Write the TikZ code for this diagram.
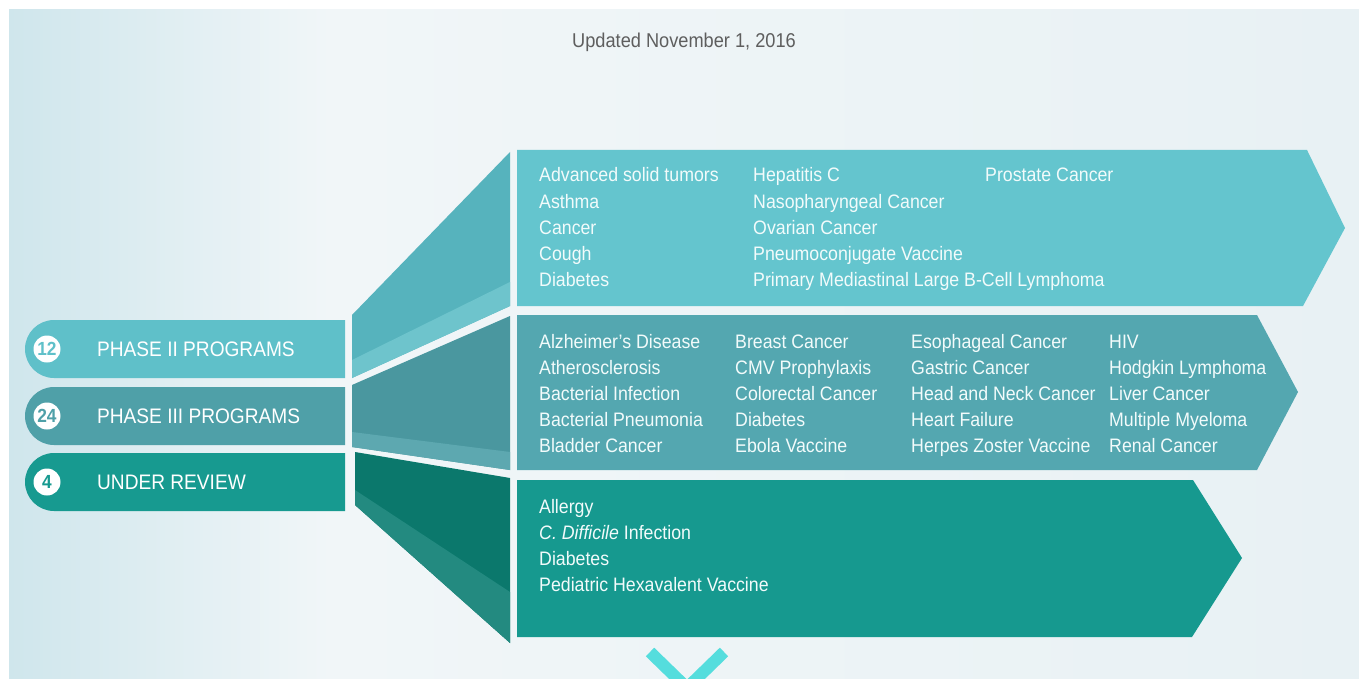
\documentclass[tikz,border=0pt]{standalone}
\usepackage{fontspec}
\newfontfamily\cond[FakeStretch=0.91]{Liberation Sans}
\definecolor{bgL}{HTML}{CFE6EC}
\definecolor{bgM}{HTML}{F1F6F8}
\definecolor{bgR}{HTML}{E8F1F4}
\definecolor{banA}{HTML}{64C5CE}
\definecolor{banB}{HTML}{54A7B0}
\definecolor{banC}{HTML}{16998F}
\definecolor{conA}{HTML}{56B3BD}
\definecolor{conB}{HTML}{4A979F}
\definecolor{conC}{HTML}{0B786C}
\definecolor{bandA}{HTML}{6EC4CC}
\definecolor{bandB}{HTML}{5DA8B0}
\definecolor{bandC}{HTML}{238A80}
\definecolor{pillA}{HTML}{5FC0C9}
\definecolor{pillB}{HTML}{4FA0A8}
\definecolor{pillC}{HTML}{179A90}
\definecolor{txt}{HTML}{F2FBFB}
\definecolor{upd}{HTML}{5E5E5E}
\definecolor{chev}{HTML}{55DDDD}
\begin{document}
\begin{tikzpicture}[x=1pt,y=-1pt,
  item/.style={anchor=base west, inner sep=0pt, text=txt, font=\cond\fontsize{19.5}{26}\selectfont},
  pilltext/.style={anchor=base west, inner sep=0pt, text=white, font=\cond\fontsize{21}{24}\selectfont},
  numcirc/.style={circle, fill=white, inner sep=0pt, minimum size=27pt, font=\cond\bfseries\fontsize{19}{19}\selectfont}]
\useasboundingbox (0,0) rectangle (1359,679);
\clip (0,0) rectangle (1359,679);
\fill[white] (0,0) rectangle (1359,679);
\shade[left color=bgL, right color=bgM] (9,10) rectangle (330,679);
\shade[left color=bgM, middle color=bgM!60!white, right color=bgR] (330,10) rectangle (1359,679);

% title
\node[anchor=base west, inner sep=0pt, text=upd, font=\cond\fontsize{20}{24}\selectfont] (upd) at (572,48) {Updated November 1, 2016};

% banners
\fill[banA] (517,150) -- (1307,150) -- (1345,228) -- (1303,306) -- (517,306) -- cycle;
\fill[banB] (517,315) -- (1257,315) -- (1298,392) -- (1257,470) -- (517,470) -- cycle;
\fill[banC] (517,480) -- (1193,480) -- (1242,558) -- (1192,637) -- (517,637) -- cycle;

% connectors
\fill[conA] (352,315) -- (510,152) -- (510,306) -- (352,378) -- cycle;
\fill[bandA] (352,360) -- (510,282) -- (510,306) -- (352,378) -- cycle;
\fill[conB] (352,385) -- (510,316) -- (510,470) -- (352,447) -- cycle;
\fill[bandB] (352,432) -- (510,452) -- (510,470) -- (352,447) -- cycle;
\fill[conC] (355,452) -- (510,478) -- (510,643) -- (355,505) -- cycle;
\fill[bandC] (355,490) -- (510,592) -- (510,643) -- (355,505) -- cycle;

% pills
\fill[pillA] (345,320) -- (54,320) arc[start angle=-90, end angle=-270, radius=29] -- (345,378) -- cycle;
\fill[pillB] (345,387) -- (54,387) arc[start angle=-90, end angle=-270, radius=29] -- (345,445) -- cycle;
\fill[pillC] (345,453) -- (54,453) arc[start angle=-90, end angle=-270, radius=29] -- (345,511) -- cycle;

\node[numcirc, text=pillA] (n1) at (47,349) {12};
\node[numcirc, text=pillB] (n2) at (47,416) {24};
\node[numcirc, text=pillC] (n3) at (47,482) {4};
\node[pilltext] (p1) at (97,356.5) {PHASE II PROGRAMS};
\node[pilltext] (p2) at (97,423.5) {PHASE III PROGRAMS};
\node[pilltext] (p3) at (97,489.5) {UNDER REVIEW};

% top banner texts
\foreach \t [count=\i from 0] in {Advanced solid tumors, Asthma, Cancer, Cough, Diabetes}
  \node[item] (ta\i) at (539,{182+26*\i}) {\t};
\foreach \t [count=\i from 0] in {Hepatitis C, Nasopharyngeal Cancer, Ovarian Cancer, Pneumoconjugate Vaccine, Primary Mediastinal Large B-Cell Lymphoma}
  \node[item] (tb\i) at (753,{182+26*\i}) {\t};
\node[item] (tc0) at (985,182) {Prostate Cancer};

% middle banner texts
\foreach \t [count=\i from 0] in {Alzheimer’s Disease, Atherosclerosis, Bacterial Infection, Bacterial Pneumonia, Bladder Cancer}
  \node[item] (ma\i) at (539,{348+26*\i}) {\t};
\foreach \t [count=\i from 0] in {Breast Cancer, CMV Prophylaxis, Colorectal Cancer, Diabetes, Ebola Vaccine}
  \node[item] (mb\i) at (735,{348+26*\i}) {\t};
\foreach \t [count=\i from 0] in {Esophageal Cancer, Gastric Cancer, Head and Neck Cancer, Heart Failure, Herpes Zoster Vaccine}
  \node[item] (mc\i) at (911,{348+26*\i}) {\t};
\foreach \t [count=\i from 0] in {HIV, Hodgkin Lymphoma, Liver Cancer, Multiple Myeloma, Renal Cancer}
  \node[item] (md\i) at (1109,{348+26*\i}) {\t};

% bottom banner texts
\foreach \t [count=\i from 0] in {Allergy, {\textit{C. Difficile} Infection}, Diabetes, Pediatric Hexavalent Vaccine}
  \node[item] (ba\i) at (539,{513+26*\i}) {\t};

% chevron
\draw[chev, line width=12pt] (650,652) -- (687,688) -- (724,652);
\end{tikzpicture}
\end{document}
